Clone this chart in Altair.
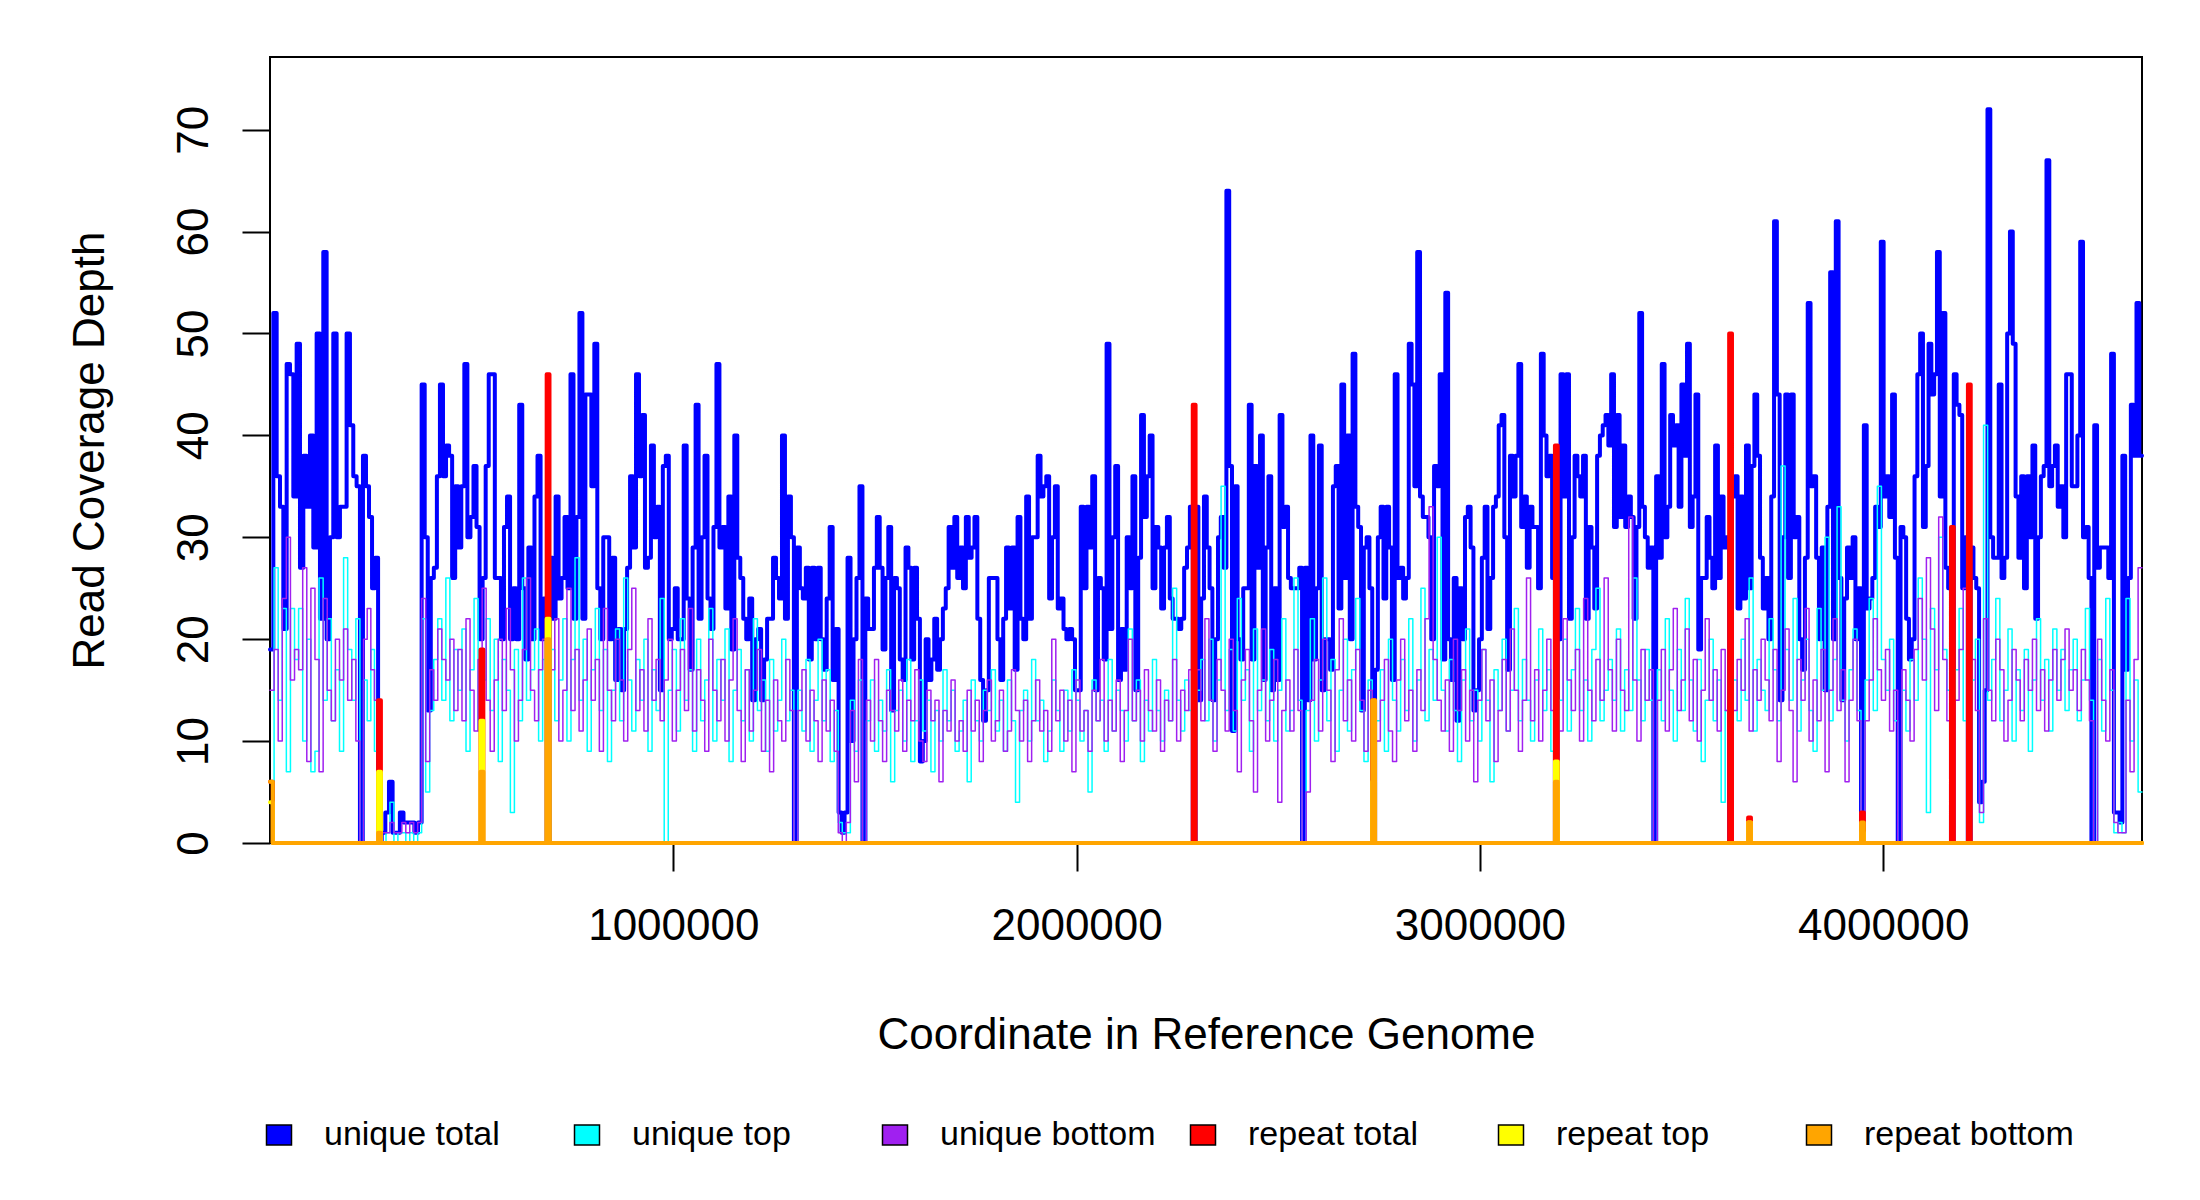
import altair as alt
import pandas as pd

GENOME_LEN = 4641652
FONT = "Liberation Sans"

chunk_kb = [0, 223, 268, 376, 686, 1299, 1469, 2288, 2559, 2733, 3186, 3430,
            3618, 3945, 4036, 4168, 4572, 4642]

unique_total = [
    [19, 52, 36, 33, 21, 47, 46, 34, 49, 27, 38, 33, 40, 29, 50, 22, 58, 20, 30, 50, 30, 33, 33, 50, 41, 36, 35],
    [0, 38, 35, 32, 25, 28],
    [0, 1, 3, 6, 1, 1, 3, 2, 2, 2, 1, 2],
    [45, 30, 13, 26, 27, 36, 45, 36, 39, 38, 26, 35, 29, 35, 47, 30, 32, 37, 31, 20,
     26, 37, 46, 46, 26, 26, 20, 31, 34, 20, 25, 20, 43, 25, 18, 29, 20, 34, 38, 20, 24],
    [0, 28, 22, 34, 24, 26, 32, 25, 46, 22, 32, 52, 22, 44, 44, 35, 49, 25, 20, 30,
     30, 20, 28, 16, 21, 15, 21, 27, 36, 29, 46, 36, 42, 27, 28, 39, 30, 33, 15, 37,
     38, 20, 21, 25, 20, 20, 39, 24, 17, 29, 43, 22, 30, 38, 24, 21, 31, 47, 29, 31,
     23, 34, 19, 40, 28, 26, 22, 20, 24, 14, 20, 21, 14, 18, 22, 22, 28, 26, 24, 40, 22, 34, 30],
    [0, 29, 25, 24, 27, 18, 27, 20, 27, 20, 17, 24, 31, 16, 21, 3, 1, 3, 28, 10, 20, 26, 35],
    [0, 24, 21, 21, 27, 32, 27, 19, 26, 31, 13, 26, 25, 18, 16, 29, 27, 18, 27, 22,
     8, 10, 20, 16, 18, 22, 17, 20, 23, 25, 31, 27, 32, 26, 29, 25, 32, 28, 29, 32,
     22, 16, 12, 15, 26, 26, 26, 20, 16, 22, 29, 23, 29, 17, 32, 22, 20, 34, 22, 30,
     30, 38, 34, 35, 36, 24, 30, 35, 23, 24, 21, 20, 21, 20, 15, 15, 33, 25, 33, 29,
     36, 15, 26, 25, 18, 49, 21, 30, 37, 16, 21, 17, 30, 25, 36, 15, 28, 42, 32, 36,
     40, 25, 31, 29, 23, 29, 32, 24, 22, 22, 21, 22, 27, 29, 33],
    [0, 33, 14, 24, 34, 29, 25, 14, 20, 30, 32, 27, 64, 37, 11, 35, 20, 18, 25, 25,
     43, 18, 37, 27, 40, 16, 29, 36, 15, 25, 16, 42, 31, 33, 26, 25, 25, 25, 27],
    [0, 27, 14, 40, 18, 25, 39, 15, 20, 20, 17, 35, 37, 23, 45, 26, 40, 20, 48, 33, 31, 13, 29, 30, 25],
    [0, 17, 30, 33, 24, 33, 29, 16, 46, 26, 27, 24, 26, 49, 45, 35, 58, 34, 32, 32,
     30, 20, 37, 35, 46, 18, 54, 20, 16, 26, 12, 25, 20, 32, 33, 29, 13, 15, 20, 28,
     33, 21, 26, 33, 34, 41, 42, 30, 17, 38, 34, 38, 47, 31, 34, 27, 33, 31, 31, 25,
     48, 40, 36, 38, 26],
    [0, 20, 46, 34, 46, 22, 30, 38, 36, 34, 38, 22, 31, 29, 23, 38, 40, 41, 42, 39,
     46, 31, 42, 32, 39, 31, 34, 32, 22, 31, 52, 33, 30, 27, 29],
    [0, 36, 28, 47, 30, 33, 42, 39, 41, 33, 45, 38, 49, 31, 34, 44, 19, 26, 26, 32, 28, 25, 39, 26, 34, 29, 30],
    [0, 34, 36, 23, 34, 24, 39, 25, 37, 44, 38, 28, 23, 26, 20, 34, 61, 44, 14, 30,
     44, 26, 44, 30, 32, 20, 17, 28, 53, 35, 36, 28, 20, 29, 15, 33, 56, 20, 61, 26,
     14, 24, 29, 26, 30, 20, 25],
    [0, 41, 23, 24, 26, 33, 31, 59, 34, 36, 32, 44, 28],
    [0, 31, 30, 22, 18, 20, 36, 46, 50, 31, 37, 49, 44, 46, 58, 34, 52, 27, 25],
    [0, 46, 43, 42, 25, 30, 0, 29, 26, 25, 4, 6, 15, 72, 30, 28, 28, 45, 26, 28,
     50, 60, 49, 34, 28, 36, 25, 36, 30, 39, 22, 30, 36, 37, 67, 35, 37, 39, 33, 35,
     30, 46, 46, 35, 35, 40, 59, 30, 31, 26, 0, 41, 27, 29, 29, 29, 26, 48],
    [3, 3, 2, 38, 17, 26, 43, 38, 53, 38],
]

unique_top = [
    [4, 27, 14, 23, 7, 23, 18, 23, 10, 20, 7, 9, 26, 14, 22, 12, 17, 9, 28, 19, 14, 22],
    [0, 16, 12, 19, 9],
    [0, 0, 1, 4, 0, 1, 1, 0, 1, 0, 1],
    [22, 5, 13, 18, 22, 14, 26, 12, 19, 15, 21, 9, 17, 24, 11, 16, 22, 13, 20, 8,
     18, 15, 3, 19, 12, 26, 14, 17, 21, 10, 18],
    [0, 19, 12, 16, 22, 10, 18, 28, 14, 20, 9, 17, 23, 13, 19, 8, 15, 21, 12, 26,
     16, 11, 18, 14, 20, 9, 17, 13, 24, 0, 15, 19, 11, 22, 14, 17, 9, 20, 12, 16,
     23, 10, 18, 14, 21, 8, 15, 19, 12, 17, 10, 22, 13, 16, 9, 18, 11, 14, 20, 12, 15],
    [0, 15, 11, 18, 9, 14, 20, 12, 17, 8, 13, 2, 1, 1, 14, 9, 16],
    [0, 12, 16, 9, 14, 11, 17, 6, 13, 15, 10, 18, 8, 12, 16, 11, 14, 7, 13, 10,
     17, 12, 15, 9, 11, 14, 6, 16, 12, 10, 15, 13, 17, 11, 14, 9, 16, 12, 4, 13,
     15, 10, 18, 12, 14, 8, 11, 16, 13, 9, 15, 11, 17, 14, 10, 13, 5, 16, 12, 14,
     9, 18, 11, 15, 13, 10, 21, 12, 16, 8, 14, 11, 18, 13, 10, 15, 12, 25, 14, 11, 16, 13],
    [0, 15, 18, 12, 20, 10, 16, 35, 13, 19, 11, 24, 14, 17, 9, 21, 13, 16, 12, 19, 10, 15, 22, 11, 13, 26, 14],
    [0, 13, 22, 10, 16, 26, 12, 18, 9, 15, 20, 11, 17, 24, 13, 8, 16],
    [0, 12, 17, 9, 20, 14, 11, 18, 13, 22, 10, 16, 25, 12, 19, 14, 30, 15, 11, 18,
     13, 8, 16, 21, 12, 15, 10, 19, 14, 6, 17, 13, 20, 11, 15, 23, 12, 18, 14, 10, 16, 21, 13, 17, 9],
    [0, 14, 20, 11, 17, 23, 13, 16, 10, 19, 25, 12, 15, 18, 14, 21, 11, 17, 13, 26, 16, 12, 19, 14],
    [0, 17, 12, 22, 15, 10, 19, 13, 24, 16, 11, 18, 8, 14, 20, 12, 16, 4, 13],
    [0, 16, 12, 20, 14, 26, 11, 18, 15, 13, 22, 17, 12, 37, 19, 14, 24, 11, 16, 20,
     13, 9, 23, 15, 30, 12, 18, 33, 14, 10, 17, 21, 13],
    [0, 16, 24, 13, 35, 18, 15, 20, 12],
    [0, 15, 11, 18, 14, 26, 20, 3, 23, 17, 30, 19, 15],
    [0, 17, 23, 12, 0, 16, 20, 2, 41, 14, 18, 24, 12, 15, 21, 10, 17, 13, 19, 9,
     16, 22, 14, 18, 11, 21, 15, 19, 13, 17, 20, 12, 16, 23, 14, 0, 18, 11, 24, 15],
    [1, 2, 1, 24, 10, 16, 5],
]

unique_bottom = [
    [15, 19, 10, 24, 30, 16, 19, 17, 27, 8, 25, 18, 7, 24, 15, 12, 20, 16, 21, 14, 18, 10],
    [0, 20, 23, 17, 14],
    [0, 1, 1, 2, 1, 1, 2, 1, 2, 1, 2],
    [24, 8, 17, 14, 21, 18, 16, 20, 13, 19, 12, 22, 15, 11, 18, 25, 14, 9, 16, 20,
     13, 23, 17, 10, 14, 19, 26, 15, 12, 17, 20],
    [0, 17, 22, 10, 15, 25, 13, 19, 11, 16, 21, 14, 18, 9, 23, 15, 12, 20, 16, 10,
     19, 25, 13, 17, 11, 22, 14, 18, 12, 16, 20, 10, 15, 19, 13, 23, 11, 17, 14, 9,
     20, 15, 12, 18, 10, 16, 22, 13, 8, 17, 11, 15, 19, 9, 14, 7, 16, 12, 10, 18, 13],
    [0, 13, 17, 10, 15, 12, 8, 16, 11, 14, 9, 1, 0, 2, 13, 6, 18],
    [0, 14, 10, 18, 12, 8, 15, 13, 11, 16, 9, 14, 12, 17, 10, 8, 15, 12, 14, 6,
     13, 11, 16, 10, 12, 9, 15, 11, 14, 8, 13, 16, 10, 12, 15, 9, 11, 17, 13, 10,
     14, 8, 12, 16, 11, 13, 9, 20, 12, 15, 10, 14, 7, 16, 11, 13, 9, 15, 12, 18,
     10, 14, 11, 16, 8, 13, 20, 12, 15, 10, 17, 13, 11, 16, 9, 14, 12, 18, 10, 15, 13, 17],
    [0, 17, 12, 22, 14, 9, 18, 15, 11, 20, 13, 7, 16, 19, 12, 5, 15, 21, 10, 14, 18, 4, 13, 16, 11, 19, 13],
    [0, 5, 14, 18, 11, 20, 15, 8, 17, 22, 12, 16, 10, 19, 14, 9, 15],
    [0, 10, 14, 18, 11, 8, 16, 20, 12, 15, 9, 17, 13, 22, 33, 18, 14, 11, 16, 9,
     20, 13, 17, 10, 15, 6, 14, 19, 12, 16, 8, 13, 18, 11, 21, 15, 9, 14, 26, 12, 17, 10, 15, 20, 13],
    [0, 11, 22, 16, 13, 19, 10, 24, 15, 12, 18, 14, 26, 17, 11, 20, 15, 13, 32, 16, 10, 19, 14, 17],
    [0, 14, 19, 11, 17, 23, 13, 16, 21, 12, 18, 10, 15, 22, 14, 17, 11, 19, 13],
    [0, 13, 18, 15, 22, 11, 17, 14, 20, 16, 12, 19, 8, 15, 21, 13, 6, 18, 14, 23,
     10, 16, 12, 19, 7, 15, 22, 13, 17, 6, 14, 20, 12],
    [0, 12, 16, 22, 17, 14, 19, 11, 15],
    [0, 17, 14, 10, 19, 24, 16, 28, 21, 13, 32, 18, 12],
    [0, 14, 19, 25, 0, 18, 13, 3, 22, 15, 12, 20, 17, 10, 14, 19, 16, 12, 18, 15,
     20, 13, 17, 11, 16, 19, 14, 18, 21, 15, 17, 13, 19, 16, 12, 0, 20, 14, 10, 17],
    [2, 1, 1, 14, 7, 18, 27],
]

repeat_start_kb = [0, 268, 522, 686, 2288, 2733, 3186, 3618, 3665, 3945, 4168, 4210]
repeat_total = [6, 14, 19, 46, 43, 14, 39, 50, 2.5, 3, 31, 45]
repeat_top = [4, 7, 12, 22, 0, 6, 8, 0, 2, 1, 0, 0]
repeat_bottom = [6, 1, 7, 20, 0, 14, 6, 0, 2, 2, 0, 0]
SPIKE_KB = 7

series_names = ["unique total", "unique top", "unique bottom",
                "repeat total", "repeat top", "repeat bottom"]
series_colors = ["#0000FF", "#00FFFF", "#A020F0", "#FF0000", "#FFFF00", "#FFA500"]
series_widths = [4, 1.5, 1.5, 4, 4, 4]

rows = []


def add_binned(name, chunks):
    last = 0
    for i, vals in enumerate(chunks):
        a, b = chunk_kb[i], chunk_kb[i + 1]
        step = (b - a) / len(vals)
        for j, v in enumerate(vals):
            rows.append({"series": name, "pos": (a + j * step) * 1000, "value": v})
            last = v
    rows.append({"series": name, "pos": GENOME_LEN, "value": last})


def add_spikes(name, vals):
    for s, v in zip(repeat_start_kb, vals):
        rows.append({"series": name, "pos": s * 1000, "value": v})
        rows.append({"series": name, "pos": (s + SPIKE_KB) * 1000, "value": 0})
    rows.append({"series": name, "pos": GENOME_LEN, "value": 0})


add_binned("unique total", unique_total)
add_binned("unique top", unique_top)
add_binned("unique bottom", unique_bottom)
add_spikes("repeat total", repeat_total)
add_spikes("repeat top", repeat_top)
add_spikes("repeat bottom", repeat_bottom)

df = pd.DataFrame(rows)

BOX = "M-1,-0.8L1,-0.8L1,0.8L-1,0.8Z"

x_enc = alt.X("pos:Q",
              scale=alt.Scale(domain=[0, GENOME_LEN], nice=False, zero=False),
              axis=alt.Axis(values=[1000000, 2000000, 3000000, 4000000], format="d",
                            title="Coordinate in Reference Genome", grid=False, domain=False,
                            tickSize=28, tickWidth=2, tickColor="black",
                            labelFont=FONT, labelFontSize=44, labelColor="black",
                            labelBaseline="alphabetic", labelPadding=68,
                            labelFlush=False, labelOverlap=False,
                            titleFont=FONT, titleFontSize=44, titleFontWeight="normal",
                            titleColor="black", titleX=936, titleY=205,
                            titleAlign="center", titleBaseline="alphabetic"))
y_enc = alt.Y("value:Q",
              scale=alt.Scale(domain=[0, 77.13], nice=False),
              axis=alt.Axis(values=[0, 10, 20, 30, 40, 50, 60, 70],
                            title="Read Coverage Depth", grid=False, domain=False,
                            tickSize=28, tickWidth=2, tickColor="black",
                            labelFont=FONT, labelFontSize=44, labelColor="black",
                            labelAngle=-90, labelAlign="center",
                            labelBaseline="alphabetic", labelPadding=35,
                            labelFlush=False, labelOverlap=False,
                            titleFont=FONT, titleFontSize=44, titleFontWeight="normal",
                            titleColor="black", titleAngle=-90, titleX=-167, titleY=393,
                            titleAlign="center", titleBaseline="alphabetic"))

base = alt.Chart(df).encode(x=x_enc, y=y_enc)

# each series is its own layer, drawn in the original order, with a fixed colour
layers = []
for name, col, w in zip(series_names, series_colors, series_widths):
    layers.append(
        base.transform_filter(alt.datum.series == name)
        .mark_line(interpolate="step-after", strokeWidth=w, color=col,
                   strokeJoin="round", strokeCap="round")
    )

# legend-only layer: no rows pass the filter, entries come from the fixed domain
legend_layer = base.transform_filter(alt.datum.pos < 0).mark_point(
    filled=True
).encode(
    fill=alt.Fill("series:N",
                  scale=alt.Scale(domain=series_names, range=series_colors),
                  sort=series_names)
)
layers.append(legend_layer)

chart = alt.layer(*layers).properties(
    width=1872, height=786,
    autosize=alt.AutoSizeParams(type="none"),
    padding={"left": 262, "top": 49, "right": 40, "bottom": 340},
    background="white",
).configure_view(
    stroke="black", strokeWidth=2
).configure_legend(
    title=None, orient="none", legendX=-8, legendY=1061,
    direction="horizontal", columns=6, gridAlign="all",
    symbolType=BOX, symbolSize=625,
    symbolStrokeColor="black", symbolStrokeWidth=1.5, symbolOpacity=1,
    labelFont=FONT, labelFontSize=34, labelColor="black",
    labelOffset=28, columnPadding=30, labelLimit=500, padding=0,
)

chart.save("out.html", embed_options={"renderer": "svg", "actions": False})
